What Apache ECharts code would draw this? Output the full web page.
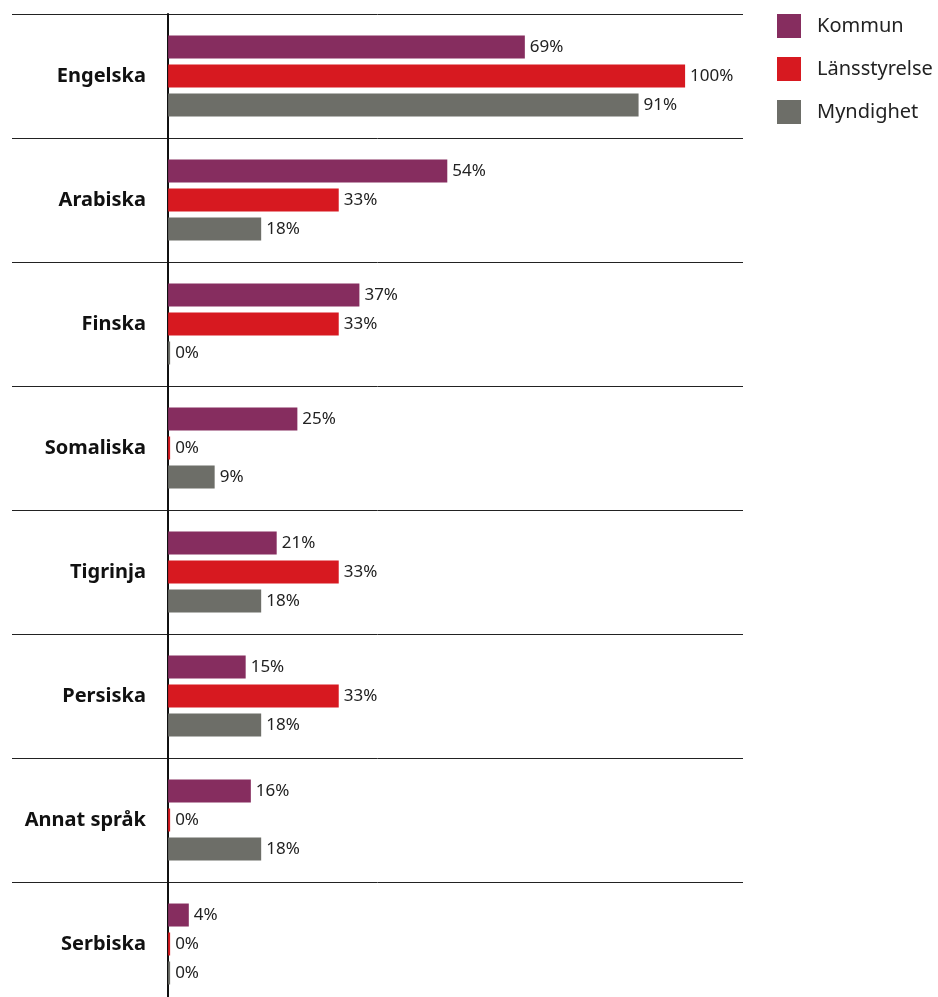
<!DOCTYPE html>
<html><head><meta charset="utf-8">
<style>html,body{margin:0;padding:0;background:#fff}#c{width:938px;height:997px}</style>
<script src="https://cdn.jsdelivr.net/npm/echarts@6/dist/echarts.min.js"></script>
</head><body><div id="c"></div>
<script>
const categories = ['Engelska','Arabiska','Finska','Somaliska','Tigrinja','Persiska','Annat språk','Serbiska'];
const kommun = [69,54,37,25,21,15,16,4];
const lansstyrelse = [100,33,33,0,33,33,0,0];
const myndighet = [91,18,0,9,18,18,18,0];
const seriesNames = ['Kommun','Länsstyrelse','Myndighet'];
const colors = ['#862d5f','#d71920','#6d6e68'];

const chart = echarts.init(document.getElementById('c'), null, {renderer:'canvas'});
const mk = (name, data, color) => ({
  name, type:'bar', data, barWidth:23, barGap:'26%', barMinHeight:2,
  itemStyle:{color},
  label:{show:true, position:'right', distance:5, formatter:'{c}%',
    fontFamily:'Noto Sans', fontSize:17, color:'#222'}
});
chart.setOption({
  animation:false,
  legend:{orient:'vertical', left:777, top:14, padding:0, itemWidth:24, itemHeight:24, itemGap:19,
    icon:'rect', textStyle:{fontFamily:'Noto Sans', fontSize:20, color:'#222', padding:[0,0,0,11]},
    data:seriesNames},
  grid:{left:12, right:195, top:14, height:992, outerBoundsMode:'none', containLabel:false},
  xAxis:{type:'value', min:-30.2, max:111.2, show:false},
  yAxis:{type:'category', data:categories, inverse:true, position:'left', offset:-156,
    axisLine:{show:true, onZero:false, lineStyle:{color:'#111', width:2}},
    axisTick:{show:false},
    splitLine:{show:true, interval:0, lineStyle:{color:'#222', width:1}},
    axisLabel:{margin:22, fontFamily:'Noto Sans', fontWeight:'bold', fontSize:20, color:'#111'}},
  series:[mk(seriesNames[0],kommun,colors[0]), mk(seriesNames[1],lansstyrelse,colors[1]), mk(seriesNames[2],myndighet,colors[2])]
});
</script></body></html>
